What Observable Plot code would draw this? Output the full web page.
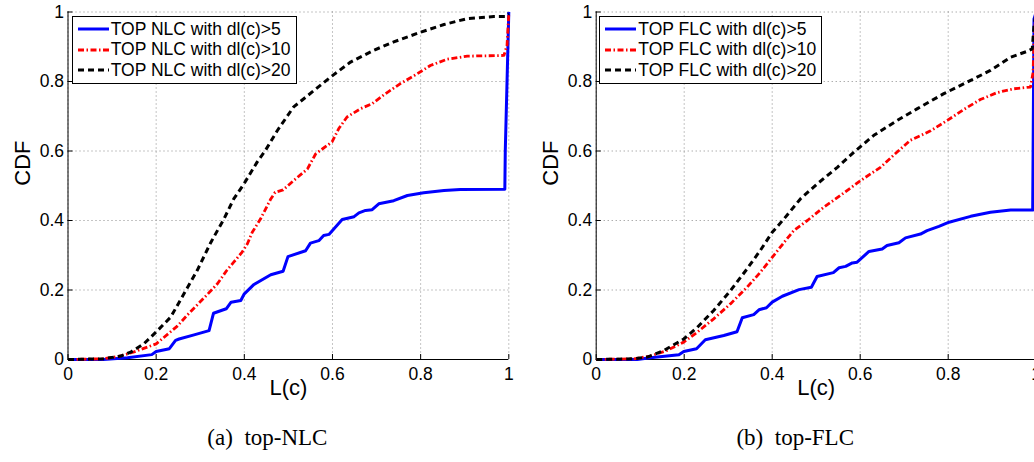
<!DOCTYPE html>
<html>
<head>
<meta charset="utf-8">
<script src="https://cdn.jsdelivr.net/npm/d3@7"></script>
<script src="https://cdn.jsdelivr.net/npm/@observablehq/plot@0.6"></script>
<style>
  html, body { margin: 0; padding: 0; background: #fff; overflow: hidden; }
  #fig { position: relative; width: 1034px; height: 462px; overflow: hidden; background: #fff; }
  .panel { position: absolute; top: 0; }
  .legend { position: absolute; box-sizing: border-box; border: 1px solid #000; background: #fff;
            font-family: "Liberation Sans", Arial, sans-serif; font-size: 17.5px; color: #000;
            padding-top: 2px; }
  .row { display: flex; align-items: center; height: 20.5px; white-space: nowrap; }
  .row svg { flex: none; }
</style>
</head>
<body>
<div id="fig"></div>
<script>
// ---------- data ----------
const xTicks = [0, 0.2, 0.4, 0.6, 0.8, 1];
const yTicks = [0, 0.2, 0.4, 0.6, 0.8, 1];
const xLabel = "L(c)";
const yLabel = "CDF";
const captions = ["(a)  top-NLC", "(b)  top-FLC"];
const nlcLabels = ["TOP NLC with dl(c)>5", "TOP NLC with dl(c)>10", "TOP NLC with dl(c)>20"];
const flcLabels = ["TOP FLC with dl(c)>5", "TOP FLC with dl(c)>10", "TOP FLC with dl(c)>20"];

// top-NLC
const nlcX5 = [0,0.08,0.135,0.19,0.20,0.23,0.244,0.252,0.286,0.32,0.33,0.359,0.37,0.392,0.40,0.422,0.46,0.488,0.499,0.539,0.55,0.569,0.58,0.592,0.622,0.649,0.66,0.675,0.69,0.705,0.739,0.77,0.807,0.853,0.89,0.991,0.992,1.0];
const nlcY5 = [0,0,0.005,0.014,0.023,0.031,0.055,0.059,0.071,0.083,0.133,0.146,0.165,0.170,0.189,0.216,0.244,0.254,0.296,0.313,0.335,0.342,0.357,0.36,0.403,0.411,0.422,0.429,0.431,0.448,0.457,0.472,0.48,0.486,0.489,0.49,0.6,1.0];
const nlcX10 = [0,0.08,0.116,0.15,0.20,0.248,0.27,0.316,0.339,0.36,0.376,0.395,0.407,0.418,0.437,0.46,0.47,0.488,0.512,0.543,0.562,0.599,0.614,0.633,0.664,0.69,0.717,0.754,0.792,0.822,0.86,0.906,0.989,0.996,1.0];
const nlcY10 = [0,0.002,0.009,0.022,0.045,0.096,0.127,0.187,0.218,0.256,0.28,0.309,0.333,0.366,0.405,0.462,0.481,0.488,0.515,0.548,0.592,0.626,0.664,0.698,0.722,0.736,0.762,0.794,0.822,0.846,0.864,0.873,0.875,0.904,0.995];
const nlcX20 = [0,0.08,0.12,0.142,0.172,0.203,0.233,0.263,0.293,0.324,0.354,0.376,0.399,0.429,0.448,0.475,0.512,0.558,0.596,0.641,0.694,0.739,0.8,0.853,0.906,0.966,0.992,1.0];
const nlcY20 = [0,0.002,0.01,0.021,0.045,0.083,0.122,0.189,0.256,0.337,0.405,0.462,0.505,0.568,0.602,0.659,0.727,0.774,0.813,0.856,0.89,0.914,0.942,0.964,0.981,0.987,0.987,0.995];

// top-FLC
const flcX5 = [0,0.093,0.123,0.188,0.199,0.228,0.248,0.29,0.32,0.332,0.358,0.37,0.387,0.4,0.423,0.461,0.489,0.502,0.539,0.552,0.567,0.582,0.593,0.62,0.65,0.661,0.688,0.703,0.737,0.752,0.779,0.802,0.851,0.896,0.942,0.992,0.995,1.0];
const flcY5 = [0,0,0.005,0.014,0.023,0.031,0.057,0.069,0.08,0.12,0.129,0.143,0.149,0.165,0.182,0.201,0.208,0.239,0.25,0.264,0.268,0.278,0.28,0.311,0.318,0.328,0.336,0.35,0.361,0.371,0.383,0.395,0.412,0.424,0.43,0.43,0.98,1.0];
const flcX10 = [0,0.086,0.123,0.161,0.199,0.23,0.267,0.305,0.343,0.373,0.4,0.427,0.449,0.48,0.517,0.555,0.601,0.646,0.677,0.714,0.76,0.798,0.836,0.873,0.911,0.949,0.987,0.993,0.995,1.0];
const flcY10 = [0,0.002,0.01,0.026,0.05,0.079,0.117,0.16,0.208,0.251,0.294,0.337,0.371,0.4,0.438,0.472,0.515,0.553,0.589,0.631,0.658,0.688,0.72,0.748,0.768,0.779,0.784,0.827,0.928,1.0];
const flcX20 = [0,0.086,0.116,0.154,0.199,0.23,0.267,0.305,0.343,0.373,0.4,0.427,0.464,0.502,0.548,0.586,0.631,0.684,0.73,0.79,0.851,0.896,0.942,0.98,0.991,0.995,1.0];
const flcY20 = [0,0.002,0.007,0.026,0.059,0.093,0.141,0.198,0.261,0.314,0.366,0.405,0.462,0.505,0.553,0.597,0.645,0.688,0.722,0.765,0.803,0.832,0.87,0.887,0.894,0.961,1.0];

// ---------- styles ----------
const styles = [
  {stroke: "#0000ff", strokeWidth: 3, strokeDasharray: null},
  {stroke: "#ff0000", strokeWidth: 2.8, strokeDasharray: "6,2.5,1.5,2.5"},
  {stroke: "#000000", strokeWidth: 3, strokeDasharray: "6,4"}
];
const fmt = d => String(+d.toFixed(1));
const sans = "'Liberation Sans', Arial, sans-serif";

function toRows(xs, ys) { return xs.map((x, i) => ({x, y: ys[i]})); }

function makePanel(seriesXY, labels, caption, left, width, marginLeft, marginRight, legendLeft, legendWidth, swatchPad) {
  const fig = document.getElementById("fig");
  const plot = Plot.plot({
    width, height: 462,
    marginTop: 11.5, marginBottom: 103, marginLeft, marginRight,
    x: {domain: [0, 1]},
    y: {domain: [0, 1]},
    style: {fontFamily: sans, fontSize: "17.5px", color: "#000", background: "transparent", overflow: "visible"},
    marks: [
      Plot.gridX(xTicks, {stroke: "#8a8a8a", strokeOpacity: 1, strokeDasharray: "1,3"}),
      Plot.gridY(yTicks, {stroke: "#8a8a8a", strokeOpacity: 1, strokeDasharray: "1,3"}),
      Plot.axisX(xTicks, {tickSize: -5, tickPadding: 13, tickFormat: fmt, label: null}),
      Plot.axisY(yTicks, {tickSize: -5, tickPadding: 9, tickFormat: fmt, label: null}),
      Plot.ruleX([0], {stroke: "#000"}),
      Plot.ruleY([0], {stroke: "#000"}),
      ...seriesXY.map(([xs, ys], i) => Plot.line(toRows(xs, ys), {
        x: "x", y: "y", stroke: styles[i].stroke, strokeWidth: styles[i].strokeWidth,
        strokeDasharray: styles[i].strokeDasharray, strokeLinecap: "butt", strokeLinejoin: "round"
      })),
      Plot.text([xLabel], {frameAnchor: "bottom", dy: 35.7, fontSize: 22}),
      Plot.text([yLabel], {frameAnchor: "left", dx: -45, rotate: -90, fontSize: 22}),
      Plot.text([caption], {frameAnchor: "bottom", dx: -21, dy: 85.5, fontSize: 23, fontFamily: "'Liberation Serif', 'Times New Roman', serif"})
    ]
  });
  plot.classList.add("panel");
  plot.style.left = left + "px";
  fig.appendChild(plot);

  // legend
  const lg = document.createElement("div");
  lg.className = "legend";
  lg.style.left = legendLeft + "px";
  lg.style.top = "16px";
  lg.style.width = legendWidth + "px";
  lg.style.height = "67.5px";
  labels.forEach((lab, i) => {
    const row = document.createElement("div");
    row.className = "row";
    const s = styles[i];
    row.innerHTML = `<svg width="${31 + swatchPad}" height="12"><line x1="${swatchPad}" x2="${swatchPad + 31}" y1="6" y2="6" stroke="${s.stroke}" stroke-width="${s.strokeWidth}" ${s.strokeDasharray ? `stroke-dasharray="${s.strokeDasharray}"` : ""}/></svg><span style="margin-left:2px">${lab}</span>`;
    lg.appendChild(row);
  });
  fig.appendChild(lg);
}

makePanel([[nlcX5, nlcY5], [nlcX10, nlcY10], [nlcX20, nlcY20]], nlcLabels, captions[0],
          0, 520, 67.5, 11.7, 71.7, 225, 5);
makePanel([[flcX5, flcY5], [flcX10, flcY10], [flcX20, flcY20]], flcLabels, captions[1],
          520, 520, 75.7, 4.3, 599.3, 223, 5);
</script>
</body>
</html>
